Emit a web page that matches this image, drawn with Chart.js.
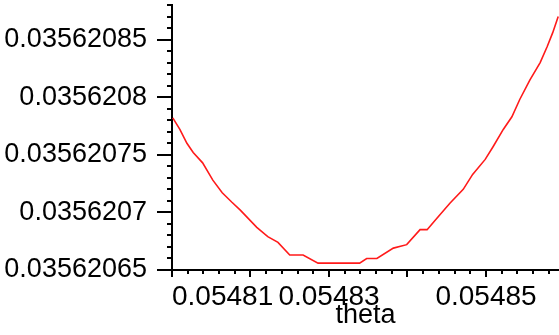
<!DOCTYPE html>
<html>
<head>
<meta charset="utf-8">
<script src="https://cdn.jsdelivr.net/npm/chart.js@4.4.0/dist/chart.umd.min.js"></script>
<style>
  html, body { margin: 0; padding: 0; background: #fff; }
</style>
</head>
<body>
<canvas id="stage" width="559" height="335"></canvas>
<script>
// values
var thetaValues = [
  0.0548101, 0.0548110, 0.0548119, 0.0548127, 0.0548139, 0.0548152,
  0.0548164, 0.0548176, 0.0548187, 0.0548208, 0.0548222, 0.0548235,
  0.0548250, 0.0548267, 0.0548286, 0.0548339, 0.0548348, 0.0548361,
  0.0548382, 0.0548399, 0.0548416, 0.0548425, 0.0548435, 0.0548454,
  0.0548471, 0.0548483, 0.0548499, 0.0548509, 0.0548522, 0.0548533,
  0.0548543, 0.0548556, 0.0548569, 0.0548578, 0.0548585, 0.0548592
];
var curveValues = [
  0.035620782, 0.035620772, 0.035620760, 0.035620752, 0.035620743, 0.035620728,
  0.035620717, 0.035620709, 0.035620702, 0.035620687, 0.035620679, 0.035620674,
  0.035620663, 0.035620663, 0.035620656, 0.035620656, 0.035620660, 0.035620660,
  0.035620669, 0.035620672, 0.035620685, 0.035620685, 0.035620693, 0.035620708,
  0.035620720, 0.035620733, 0.035620746, 0.035620757, 0.035620772, 0.035620783,
  0.035620798, 0.035620815, 0.035620830, 0.035620844, 0.035620856, 0.035620870
];

var xRange = [0.05481, 0.0548593];
var yRange = [0.03562065, 0.03562088];
var xMajorTicks = [0.05481, 0.05483, 0.05485];
var xTickLabels = ['0.05481', '0.05483', '0.05485'];
var yMajorTicks = [0.03562065, 0.0356207, 0.03562075, 0.0356208, 0.03562085];
var yTickLabels = ['0.03562065', '0.0356207', '0.03562075', '0.0356208', '0.03562085'];
var xMinorStep = 0.000002;
var yMinorStep = 0.00000001;
var xTickMajorEvery = 0.00001;
var yTickMajorEvery = 0.00000005;

function minorTicks(range, step) {
  var out = [];
  for (var i = 0; range[0] + i * step <= range[1] + step / 100; i++) {
    out.push(Number((range[0] + i * step).toFixed(12)));
  }
  return out;
}

function labelFor(v, majors, labels, step) {
  for (var i = 0; i < majors.length; i++) {
    if (Math.abs(v - majors[i]) < step / 10) return labels[i];
  }
  return '';
}

function isMultiple(v, base, every, step) {
  var k = (v - base) / every;
  return Math.abs(k - Math.round(k)) * every < step / 10;
}

var font = { family: '"Liberation Sans", Arial, sans-serif', size: 27 };
var xFont = { family: '"Liberation Sans", Arial, sans-serif', size: 28 };

// little tick marks, major ones longer
var tickMarks = {
  id: 'tickMarks',
  afterDraw: function(chart) {
    var ctx = chart.ctx;
    var xs = chart.scales.x, ys = chart.scales.y;
    ctx.save();
    ctx.strokeStyle = '#000';
    ctx.lineWidth = 2;
    ctx.beginPath();
    ys.ticks.forEach(function(t) {
      var py = Math.round(ys.getPixelForValue(t.value));
      var len = isMultiple(t.value, yRange[0], yTickMajorEvery, yMinorStep) ? 15 : 5;
      ctx.moveTo(xs.left, py);
      ctx.lineTo(xs.left - len, py);
    });
    xs.ticks.forEach(function(t) {
      var px = Math.round(xs.getPixelForValue(t.value));
      var len = isMultiple(t.value, xRange[0], xTickMajorEvery, xMinorStep) ? 7 : 4;
      ctx.moveTo(px, ys.bottom);
      ctx.lineTo(px, ys.bottom + len);
    });
    ctx.stroke();
    ctx.restore();
  }
};

var points = thetaValues.map(function(t, i) { return { x: t, y: curveValues[i] }; });

new Chart(document.getElementById('stage'), {
  type: 'line',
  data: {
    datasets: [{
      data: points,
      borderColor: '#ff1a1a',
      borderWidth: 1.6,
      pointRadius: 0,
      tension: 0,
      fill: false
    }]
  },
  options: {
    responsive: false,
    devicePixelRatio: 1,
    animation: false,
    layout: { padding: { top: 5, right: 0, left: 0, bottom: 0 } },
    plugins: { legend: { display: false }, tooltip: { enabled: false } },
    scales: {
      x: {
        type: 'linear',
        min: xRange[0],
        max: xRange[1],
        afterFit: function(s) {
          s.height = 65;
          s.paddingLeft = 0; s.paddingRight = 0;
        },
        afterBuildTicks: function(s) {
          s.ticks = minorTicks([xRange[0], 0.054858], xMinorStep).map(function(v) { return { value: v }; });
        },
        ticks: {
          autoSkip: false,
          maxRotation: 0,
          align: 'inner',
          padding: 2,
          color: '#000',
          font: xFont,
          callback: function(v) { return labelFor(v, xMajorTicks, xTickLabels, xMinorStep); }
        },
        grid: { display: false },
        border: { display: true, color: '#000', width: 2 },
        title: { display: true, text: 'theta', color: '#000', font: font, padding: { top: 0, bottom: 3 } }
      },
      y: {
        type: 'linear',
        min: yRange[0],
        max: yRange[1],
        afterFit: function(s) {
          s.width = 172;
          s.paddingTop = 0; s.paddingBottom = 0;
        },
        afterBuildTicks: function(s) {
          s.ticks = minorTicks(yRange, yMinorStep).map(function(v) { return { value: v }; });
        },
        ticks: {
          autoSkip: false,
          padding: 17,
          color: '#000',
          font: font,
          callback: function(v) { return labelFor(v, yMajorTicks, yTickLabels, yMinorStep); }
        },
        grid: { display: false },
        border: { display: true, color: '#000', width: 2 }
      }
    }
  },
  plugins: [tickMarks]
});
</script>
</body>
</html>
